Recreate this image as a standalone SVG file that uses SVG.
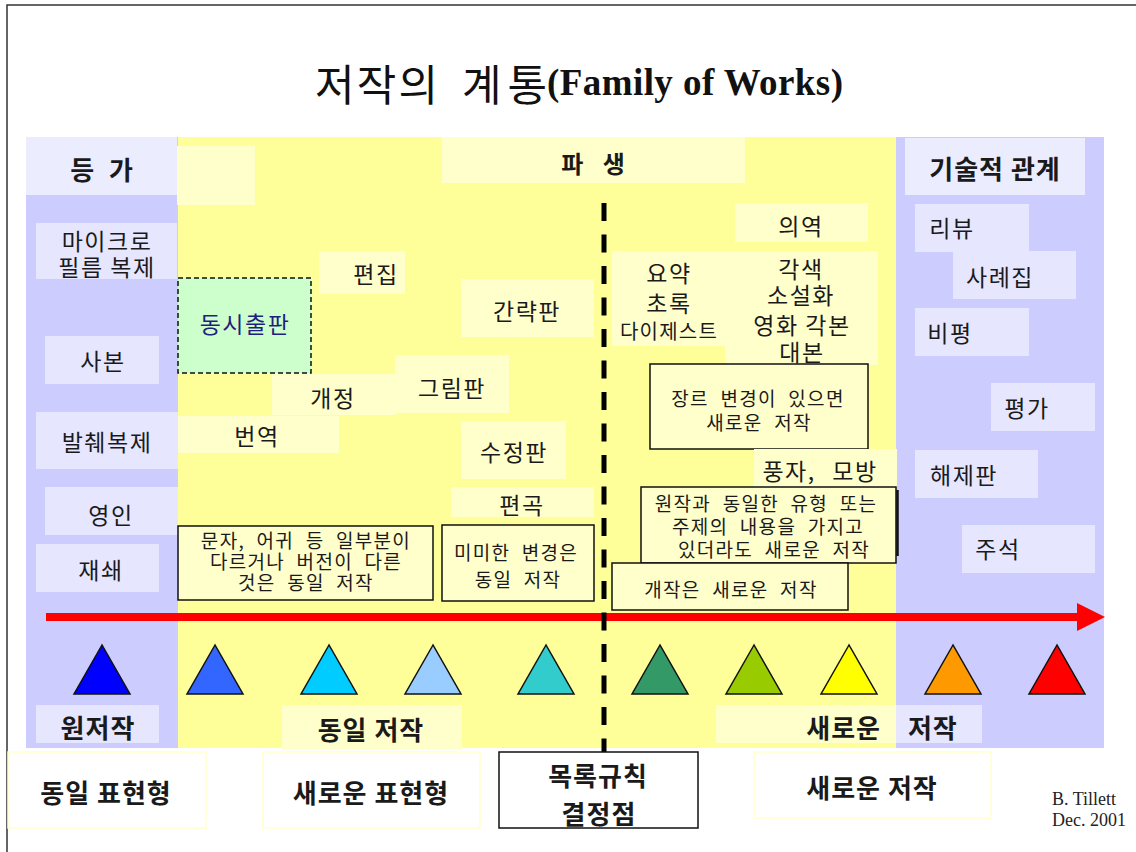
<svg xmlns="http://www.w3.org/2000/svg" width="1136" height="852" viewBox="0 0 1136 852">
<style>
.t{font-family:"Noto Sans CJK KR","Noto Sans",sans-serif;fill:#1a1a1a;text-anchor:middle;dominant-baseline:central}
.m{font-size:23px;letter-spacing:1.5px}
.s{font-size:20px;letter-spacing:1.2px}
.n{font-size:19px;letter-spacing:1.3px;word-spacing:6px}
.h{font-size:26px;font-weight:bold;letter-spacing:1px}
.ti{font-family:"Noto Sans CJK KR",sans-serif;font-size:43px;fill:#111;dominant-baseline:central}
.ly{fill:#FFFFCC}
.lb{fill:#E6E6FF}
.note{fill:#FFFFCC;stroke:#111;stroke-width:1.5}
.out{fill:#FFFFFF;stroke:#FFFFCC;stroke-width:1.5}
.tri{stroke:#111;stroke-width:1.5;stroke-linejoin:miter}
.cr{font-family:"Liberation Serif",serif;font-size:18px;fill:#222}
</style>
<defs>
<marker id="ah" markerUnits="userSpaceOnUse" markerWidth="28" markerHeight="28" viewBox="0 0 27 27" refX="0" refY="13.5" orient="auto">
<path d="M0,0 L27,13.5 L0,27 z" fill="#FF0000"/>
</marker>
</defs>
<rect width="1136" height="852" fill="#FFFFFF"/>
<path d="M7,852 L7,5 L1136,5" fill="none" stroke="#333" stroke-width="1.5"/>

<g id="title">
<text class="ti" x="315" y="82" textLength="123" lengthAdjust="spacing">저작의</text>
<text class="ti" x="462" y="82" textLength="85" lengthAdjust="spacing">계통</text>
<text x="547" y="95" style="font-family:'Liberation Serif',serif;font-size:37px;font-weight:bold;fill:#111" textLength="296">(Family of Works)</text>
</g>

<g id="bands">
<rect x="26" y="137" width="152" height="611" fill="#CCCCFF"/>
<rect x="178" y="137" width="718" height="611" fill="#FFFF99"/>
<rect x="896" y="137" width="208" height="611" fill="#CCCCFF"/>
</g>

<g id="header-equiv"><rect x="26" y="137" width="151" height="58" fill="#ECECFF"/><text class="t h" x="102" y="168" style="word-spacing:7px">등 가</text></g>
<g id="header-blank"><rect class="ly" x="177" y="146" width="78" height="59"/></g>
<g id="header-deriv"><rect class="ly" x="442" y="137" width="303" height="46"/><text class="t" x="593" y="162" style="font-size:24px;font-weight:bold;word-spacing:14px">파 생</text></g>
<g id="header-desc"><rect x="905" y="138" width="180" height="57" fill="#ECECFF"/><text class="t h" x="995" y="167">기술적 관계</text></g>

<g id="microfilm"><rect class="lb" x="36" y="223" width="141" height="56"/><text class="t m" x="107" y="240">마이크로</text><text class="t m" x="107" y="266">필름 복제</text></g>
<g id="copy"><rect class="lb" x="45" y="336" width="114" height="48"/><text class="t m" x="103" y="360">사본</text></g>
<g id="excerpt"><rect class="lb" x="36" y="412" width="142" height="57"/><text class="t m" x="107" y="441">발췌복제</text></g>
<g id="facsimile"><rect class="lb" x="45" y="487" width="133" height="48"/><text class="t m" x="111" y="514">영인</text></g>
<g id="reprint"><rect class="lb" x="36" y="544" width="123" height="48"/><text class="t m" x="101" y="569">재쇄</text></g>

<g id="simultaneous"><rect x="178" y="278" width="133" height="95" fill="#CCFFCC" stroke="#111" stroke-width="1.5" stroke-dasharray="5 3"/><text class="t m" x="245" y="323" style="fill:#1F1F7F">동시출판</text></g>
<g id="edit"><rect class="ly" x="319" y="251" width="86" height="43"/><text class="t m" x="376" y="273">편집</text></g>
<g id="abridged"><rect class="ly" x="461" y="279" width="133" height="58"/><text class="t m" x="527" y="310">간략판</text></g>
<g id="illustrated"><rect class="ly" x="395" y="355" width="114" height="58"/><text class="t m" x="452" y="387">그림판</text></g>
<g id="revision"><rect class="ly" x="272" y="374" width="124" height="41"/><text class="t m" x="333" y="397">개정</text></g>
<g id="translation"><rect class="ly" x="178" y="416" width="161" height="37"/><text class="t m" x="257" y="435">번역</text></g>
<g id="corrected"><rect class="ly" x="461" y="421" width="105" height="58"/><text class="t m" x="514" y="451">수정판</text></g>
<g id="arrangement"><rect class="ly" x="451" y="487" width="143" height="30"/><text class="t m" x="522" y="504">편곡</text></g>
<g id="note-variant"><rect class="note" x="178" y="526" width="255" height="74"/><text class="t n" x="306" y="539">문자, 어귀 등 일부분이</text><text class="t n" x="306" y="560">다르거나 버전이 다른</text><text class="t n" x="306" y="581">것은 동일 저작</text></g>
<g id="note-minor"><rect class="note" x="442" y="525" width="152" height="76"/><text class="t n" x="516" y="551">미미한 변경은</text><text class="t n" x="518" y="578">동일 저작</text></g>

<g id="free-translation"><rect class="ly" x="735" y="203" width="133" height="39"/><text class="t m" x="801" y="225">의역</text></g>
<g id="summary"><rect class="ly" x="612" y="251" width="115" height="95"/><text class="t m" x="669" y="272">요약</text><text class="t m" x="669" y="302">초록</text><text class="t s" x="669" y="330">다이제스트</text></g>
<g id="adaptation"><rect class="ly" x="725" y="251" width="153" height="114"/><text class="t m" x="801" y="268">각색</text><text class="t m" x="801" y="294">소설화</text><text class="t m" x="802" y="324">영화 각본</text><text class="t m" x="802" y="351">대본</text></g>
<g id="note-genre"><rect class="note" x="650" y="364" width="218" height="85"/><text class="t n" x="758" y="397">장르 변경이 있으면</text><text class="t n" x="759" y="421">새로운 저작</text></g>
<g id="parody"><rect class="ly" x="754" y="449" width="143" height="38"/><text class="t m" x="820" y="470" style="word-spacing:10px">풍자, 모방</text></g>
<g id="note-same-theme"><line x1="897.5" y1="490" x2="897.5" y2="556" stroke="#111" stroke-width="2.5"/><rect class="note" x="641" y="487" width="255" height="76"/><text class="t n" x="766" y="502">원작과 동일한 유형 또는</text><text class="t n" x="768" y="525">주제의 내용을 가지고</text><text class="t n" x="774" y="548">있더라도 새로운 저작</text></g>
<g id="note-rework"><rect class="note" x="612" y="563" width="236" height="47"/><text class="t n" x="731" y="588">개작은 새로운 저작</text></g>

<g id="review"><rect class="lb" x="915" y="204" width="114" height="48"/><text class="t m" x="952" y="227">리뷰</text></g>
<g id="casebook"><rect class="lb" x="953" y="251" width="123" height="48"/><text class="t m" x="1000" y="276">사례집</text></g>
<g id="criticism"><rect class="lb" x="915" y="308" width="114" height="48"/><text class="t m" x="950" y="332">비평</text></g>
<g id="evaluation"><rect class="lb" x="991" y="383" width="104" height="48"/><text class="t m" x="1027" y="407">평가</text></g>
<g id="annotated-ed"><rect class="lb" x="915" y="450" width="123" height="48"/><text class="t m" x="964" y="474">해제판</text></g>
<g id="commentary"><rect class="lb" x="962" y="525" width="133" height="48"/><text class="t m" x="998" y="548">주석</text></g>

<g id="connectors">
<line x1="46" y1="617" x2="1077" y2="617" stroke="#FF0000" stroke-width="8" marker-end="url(#ah)"/>
<line x1="604" y1="203" x2="604" y2="752" stroke="#000" stroke-width="5" stroke-dasharray="18 13.5"/>
</g>

<g id="works">
<polygon class="tri" fill="#0000FF" points="102,645 74,694 130,694"/>
<polygon class="tri" fill="#3366FF" points="215,645 187,694 243,694"/>
<polygon class="tri" fill="#00CCFF" points="329,645 301,694 357,694"/>
<polygon class="tri" fill="#99CCFF" points="433,645 405,694 461,694"/>
<polygon class="tri" fill="#33CCCC" points="546,645 518,694 574,694"/>
<polygon class="tri" fill="#339966" points="660,645 632,694 688,694"/>
<polygon class="tri" fill="#99CC00" points="754,645 726,694 782,694"/>
<polygon class="tri" fill="#FFFF00" points="849,645 821,694 877,694"/>
<polygon class="tri" fill="#FF9900" points="953,645 925,694 981,694"/>
<polygon class="tri" fill="#FF0000" points="1057,645 1029,694 1085,694"/>
</g>

<g id="original-work"><rect class="lb" x="36" y="705" width="123" height="38"/><text class="t h" x="98" y="726">원저작</text></g>
<g id="same-work"><rect class="ly" x="282" y="705" width="180" height="45"/><text class="t h" x="371" y="728">동일 저작</text></g>
<g id="new-work"><rect x="716" y="705" width="266" height="38" fill="#FFFFFF" fill-opacity="0.5"/><text class="t h" x="882" y="726" style="word-spacing:20px">새로운 저작</text></g>

<g id="same-expression"><rect class="out" x="8" y="752" width="198" height="76"/><text class="t h" x="106" y="791">동일 표현형</text></g>
<g id="new-expression"><rect class="out" x="263" y="752" width="217" height="76"/><text class="t h" x="371" y="791">새로운 표현형</text></g>
<g id="cataloging-point"><rect x="499" y="752" width="199" height="76" fill="#FFFFFF" stroke="#111" stroke-width="1.5"/><text class="t h" x="598" y="774">목록규칙</text><text class="t h" x="599" y="812">결정점</text></g>
<g id="new-work-bottom"><rect class="out" x="754" y="752" width="237" height="66"/><text class="t h" x="872" y="786">새로운 저작</text></g>

<g id="credit">
<text class="cr" x="1052" y="805">B. Tillett</text>
<text class="cr" x="1052" y="826">Dec. 2001</text>
</g>
</svg>
